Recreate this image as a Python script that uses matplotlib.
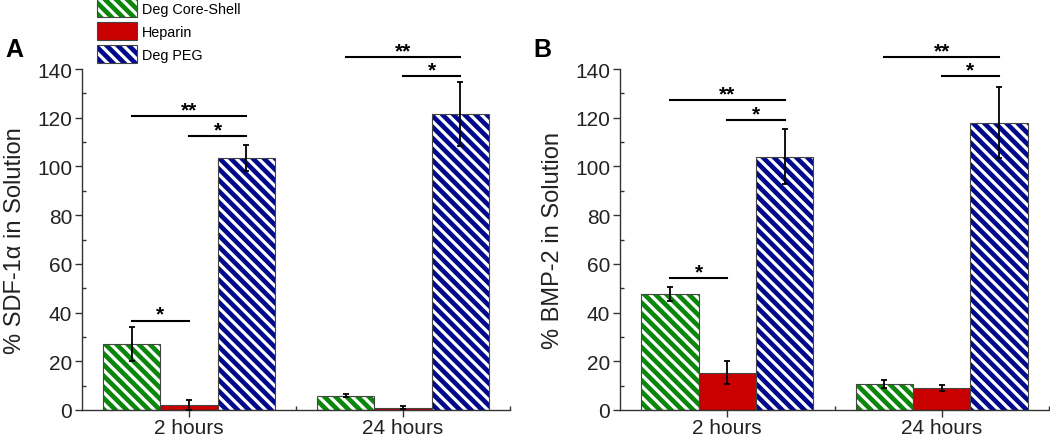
import matplotlib
matplotlib.use("Agg")
import matplotlib.pyplot as plt
import matplotlib.patches as mpatches
from matplotlib.legend_handler import HandlerTuple
from matplotlib.ticker import MultipleLocator, FixedLocator
import numpy as np

plt.rcParams['font.family'] = ['Liberation Sans', 'DejaVu Sans']
plt.rcParams['hatch.linewidth'] = 2.3

# ---------------- data ----------------
groups = ["2 hours", "24 hours"]
series = ["Deg Core-Shell", "Heparin", "Deg PEG"]
colors = ["#0a870a", "#c80000", "#00088c"]
hatches = ["\\\\\\", None, "\\\\\\"]

sdf_means = [[27.0, 5.9], [2.1, 1.0], [103.5, 121.5]]
sdf_errs = [[7.0, 0.5], [2.0, 0.5], [5.3, 13.0]]

bmp_means = [[47.6, 10.7], [15.3, 8.9], [104.0, 118.0]]
bmp_errs = [[2.7, 1.5], [4.7, 1.2], [11.3, 14.7]]

# significance brackets: (group, series_i, series_j, height, label)
sdf_sig = [(0, 0, 2, 120.8, "**"), (0, 1, 2, 112.6, "*"), (0, 0, 1, 36.7, "*"),
           (1, 0, 2, 144.8, "**"), (1, 1, 2, 137.2, "*")]
bmp_sig = [(0, 0, 2, 127.3, "**"), (0, 1, 2, 119.2, "*"), (0, 0, 1, 54.2, "*"),
           (1, 0, 2, 144.8, "**"), (1, 1, 2, 137.2, "*")]

ylabels = ["% SDF-1\u03b1 in Solution", "% BMP-2 in Solution"]
panel_letters = ["A", "B"]

# ---------------- figure ----------------
W, H = 1050, 439
fig = plt.figure(figsize=(W / 100, H / 100), dpi=100)

bw = 0.267
offsets = [-bw, 0.0, bw]
edge = "#444444"

ax_rects = [[82 / W, 28 / H, 428 / W, 341 / H], [620 / W, 28 / H, 429 / W, 341 / H]]
letter_x = [5 / W, 533 / W]
x = np.arange(len(groups))

for k, (means, errs, sig) in enumerate([(sdf_means, sdf_errs, sdf_sig), (bmp_means, bmp_errs, bmp_sig)]):
    ax = fig.add_axes(ax_rects[k])
    for i in range(len(series)):
        pos = x + offsets[i]
        ax.bar(pos, means[i], bw, color=colors[i], edgecolor="white" if hatches[i] else colors[i],
               hatch=hatches[i], linewidth=0, zorder=2)
        ax.bar(pos, means[i], bw, fill=False, edgecolor=edge, linewidth=0.8, zorder=3)
        ax.errorbar(pos, means[i], yerr=errs[i], fmt="none", ecolor="black",
                    elinewidth=1.3, capsize=2.5, capthick=1.3, zorder=4)
    for g, i, j, h, lab in sig:
        x1 = g + offsets[i]
        x2 = g + offsets[j]
        ax.plot([x1, x2], [h, h], color="black", lw=1.5, clip_on=False, zorder=5)
        ax.text((x1 + x2) / 2, h + 0.3, lab, ha="center", va="baseline", fontsize=15,
                fontweight="bold", clip_on=False)
    ax.set_xlim(-0.5, 1.5)
    ax.set_ylim(0, 140)
    ax.set_xticks(x)
    ax.set_xticklabels(groups)
    ax.xaxis.set_minor_locator(FixedLocator([0.5, 1.5]))
    ax.yaxis.set_major_locator(MultipleLocator(20))
    ax.yaxis.set_minor_locator(MultipleLocator(10))
    ax.tick_params(axis="both", which="major", direction="out", length=5, width=1.0,
                   colors="#333333", labelcolor="#222222", labelsize=15)
    ax.tick_params(axis="both", which="minor", direction="in", length=3, width=1.0,
                   colors="#333333")
    ax.tick_params(axis="x", pad=1)
    ax.tick_params(axis="y", pad=2)
    for s in ["top", "right"]:
        ax.spines[s].set_visible(False)
    for s in ["left", "bottom"]:
        ax.spines[s].set_color("#333333")
        ax.spines[s].set_linewidth(1.0)
    ax.set_ylabel(ylabels[k], fontsize=17, labelpad=8, color="#222222")
    ax.patch.set_alpha(0)
    fig.text(letter_x[k], (H - 57) / H, panel_letters[k], fontsize=18, fontweight="bold",
             ha="left", va="baseline")

# legend
handles = []
for i in range(len(series)):
    p1 = mpatches.Patch(facecolor=colors[i], edgecolor="white" if hatches[i] else colors[i],
                        hatch=hatches[i], linewidth=0)
    p2 = mpatches.Patch(fill=False, edgecolor=edge, linewidth=0.8)
    handles.append((p1, p2))
fig.legend(handles, series, handler_map={tuple: HandlerTuple(ndivide=1)},
           loc="upper left", bbox_to_anchor=(97 / W, 1.0), frameon=False,
           fontsize=10.4, handlelength=2.77, handleheight=1.55, labelspacing=0.35,
           handletextpad=0.35, borderpad=0, borderaxespad=0)

fig.savefig("out.png", dpi=100)
